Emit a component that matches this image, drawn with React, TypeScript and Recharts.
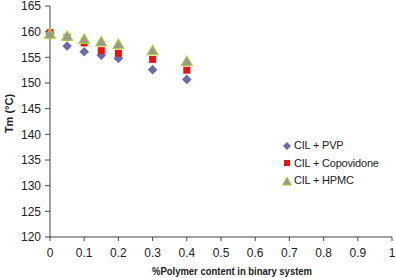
import React from 'react';
import { ScatterChart, Scatter, XAxis, YAxis, Legend, Label } from 'recharts';

// % polymer (weight fraction) in the binary mix
const polymerFraction = [0, 0.05, 0.1, 0.15, 0.2, 0.3, 0.4];
// melting temperature (°C) per polymer
const tmPVP = [159.6, 157.2, 156.1, 155.4, 154.8, 152.6, 150.7];
const tmCopovidone = [159.8, 158.9, 157.8, 156.3, 155.8, 154.6, 152.5];
const tmHPMC = [159.5, 159.1, 158.5, 158.0, 157.5, 156.3, 154.2];

const xTicks = [0, 0.1, 0.2, 0.3, 0.4, 0.5, 0.6, 0.7, 0.8, 0.9, 1];
const yTicks = [120, 125, 130, 135, 140, 145, 150, 155, 160, 165];
const seriesNames = ['CIL + PVP', 'CIL + Copovidone', 'CIL + HPMC'];

const toPoints = (ys: number[]) => polymerFraction.map((x, i) => ({ x, y: ys[i] }));

const FONT = '"Liberation Sans", Arial, sans-serif';
const TEXT = '#222';
const AXIS = '#444';

const PVP_COLOR = '#6B6BAA';
const COPO_COLOR = '#F01010';
const HPMC_FILL = '#949A8E';
const HPMC_STROKE = '#B4CF3C';

const Diamond = (p: any) => {
  const { cx, cy } = p;
  const r = 4.8;
  return <path d={`M${cx},${cy - r}L${cx + r},${cy}L${cx},${cy + r}L${cx - r},${cy}Z`} fill={PVP_COLOR} />;
};

const Square = (p: any) => {
  const { cx, cy } = p;
  return <rect x={cx - 3.5} y={cy - 3.5} width={7} height={7} fill={COPO_COLOR} />;
};

const Triangle = (p: any) => {
  const { cx, cy } = p;
  return (
    <path
      d={`M${cx},${cy - 5.5}L${cx + 5.5},${cy + 4}L${cx - 5.5},${cy + 4}Z`}
      fill={HPMC_FILL}
      stroke={HPMC_STROKE}
      strokeWidth={1.1}
    />
  );
};

const legendIcons = [
  <path key="d" d="M5,1L9,5L5,9L1,5Z" fill={PVP_COLOR} />,
  <rect key="s" x={2} y={2} width={6} height={6} fill={COPO_COLOR} />,
  <path key="t" d="M5,1L9.5,9L0.5,9Z" fill={HPMC_FILL} stroke={HPMC_STROKE} strokeWidth={1} />,
];

const LegendBox = () => (
  <div style={{ fontFamily: FONT, fontSize: 11, color: TEXT, lineHeight: '17.5px', letterSpacing: -0.2 }}>
    {seriesNames.map((name, i) => (
      <div key={name} style={{ display: 'flex', alignItems: 'center' }}>
        <svg width={10} height={10} style={{ marginRight: 2 }}>{legendIcons[i]}</svg>
        <span>{name}</span>
      </div>
    ))}
  </div>
);

const fmtX = (v: number) => (v === 0 || v === 1 ? String(v) : v.toFixed(1));

export default function App() {
  return (
    <div style={{ position: 'fixed', left: 0, top: 0, background: '#fff' }}>
      <ScatterChart width={396} height={278} margin={{ top: 6, right: 4, bottom: 0, left: 0 }}>
        <XAxis
          type="number"
          dataKey="x"
          domain={[0, 1]}
          ticks={xTicks}
          tickFormatter={fmtX}
          interval={0}
          height={41}
          stroke={AXIS}
          tickSize={4}
          tickMargin={7}
          tick={{ fill: TEXT, fontSize: 12, fontFamily: FONT }}
        >
          <Label
            content={(props: any) => {
              const vb = props.viewBox || { x: 50, y: 237, width: 342, height: 41 };
              return (
                <text
                  x={vb.x + vb.width / 2 + 11}
                  y={vb.y + 38}
                  textAnchor="middle"
                  fontFamily={FONT}
                  fontSize={11}
                  fontWeight="bold"
                  fill={TEXT}
                  textLength={160}
                  lengthAdjust="spacingAndGlyphs"
                >
                  %Polymer content in binary system
                </text>
              );
            }}
          />
        </XAxis>
        <YAxis
          type="number"
          dataKey="y"
          domain={[120, 165]}
          ticks={yTicks}
          interval={0}
          width={50}
          stroke={AXIS}
          tickSize={5}
          tickMargin={4}
          tick={{ fill: TEXT, fontSize: 12, fontFamily: FONT }}
        >
          <Label
            content={(props: any) => {
              const vb = props.viewBox || { x: 0, y: 6, width: 50, height: 231 };
              const cx = vb.x + 9;
              const cy = vb.y + vb.height / 2 - 8;
              return (
                <text
                  x={cx}
                  y={cy}
                  transform={`rotate(-90 ${cx} ${cy})`}
                  textAnchor="middle"
                  dominantBaseline="central"
                  fontFamily={FONT}
                  fontSize={11}
                  fontWeight="bold"
                  fill={TEXT}
                >
                  Tm (°C)
                </text>
              );
            }}
          />
        </YAxis>
        <Legend
          layout="horizontal"
          align="center"
          verticalAlign="middle"
          content={<LegendBox />}
          wrapperStyle={{ position: 'absolute', left: 282, top: 137, width: 'auto' }}
        />
        <Scatter name={seriesNames[0]} data={toPoints(tmPVP)} shape={Diamond} isAnimationActive={false} />
        <Scatter name={seriesNames[1]} data={toPoints(tmCopovidone)} shape={Square} isAnimationActive={false} />
        <Scatter name={seriesNames[2]} data={toPoints(tmHPMC)} shape={Triangle} isAnimationActive={false} />
      </ScatterChart>
    </div>
  );
}
